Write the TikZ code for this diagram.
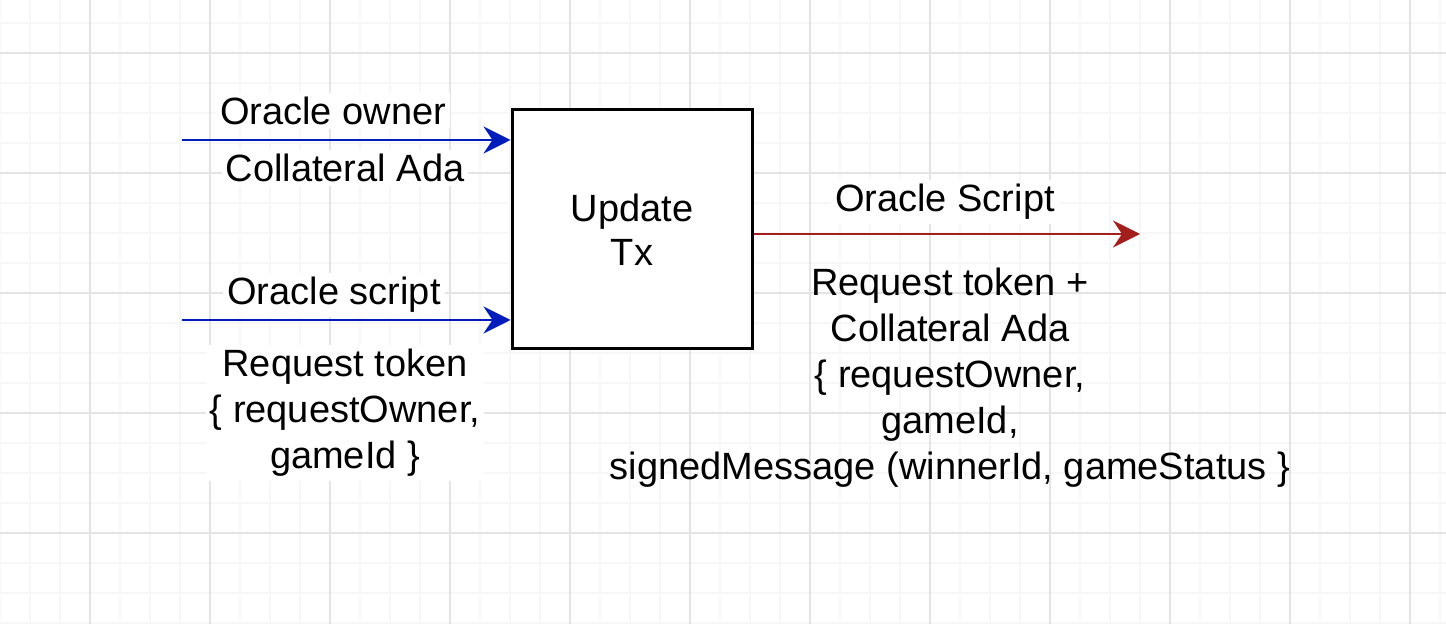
\documentclass[tikz,border=0pt]{standalone}
\usepackage{fontspec}
\setmainfont{Liberation Sans}
\usetikzlibrary{arrows.meta}
\begin{document}
\begin{tikzpicture}[x=0.5pt,y=0.5pt,yscale=-1,
  minorline/.style={color={rgb, 255:red, 247; green, 247; blue, 247 }, line width=1pt},
  majorline/.style={color={rgb, 255:red, 228; green, 228; blue, 228 }, line width=1pt},
  flowtext/.style={fill=white, inner sep=2pt, align=center, font=\fontsize{19}{23}\selectfont},
  bodytext/.style={flowtext, fill=none},
  txbox/.style={draw, line width=1.5pt, fill=white, minimum width=120pt, minimum height=119.5pt, align=center, font=\fontsize{19}{22}\selectfont},
  inarrow/.style={color={rgb, 255:red, 0; green, 29; blue, 188 }, line width=1pt, -{Stealth[length=13.5pt,width=13.5pt,inset=4.5pt]}},
  outarrow/.style={color={rgb, 255:red, 163; green, 31; blue, 27 }, line width=1pt, -{Stealth[length=13.5pt,width=13.5pt,inset=4.5pt]}}
]
\useasboundingbox (0,0) rectangle (1446,624);
\fill[white] (0,0) rectangle (1446,624);

%Grid
\foreach \gx in {0,30,...,1440} \draw[minorline] (\gx,0) -- (\gx,624);
\foreach \gy in {23,53,...,623} \draw[minorline] (0,\gy) -- (1446,\gy);
\foreach \gx in {90,210,...,1410} \draw[majorline] (\gx,0) -- (\gx,624);
\foreach \gy in {53,173,...,533} \draw[majorline] (0,\gy) -- (1446,\gy);

%Shape: Rectangle
\node[txbox] (tx) at (632,229.5) {Update\\Tx};

%Straight Lines
\coordinate (ownerin) at (182,140);
\coordinate (scriptin) at (182,320);
\coordinate (scriptout) at (1140,234);
\draw[inarrow] (ownerin) -- (ownerin -| tx.west);
\draw[inarrow] (scriptin) -- (scriptin -| tx.west);
\draw[outarrow] (tx.east |- scriptout) -- (scriptout);

% Text Node
\node[flowtext, anchor=base] (ownerlbl) at (333,125) {Oracle owner};
% Text Node
\node[flowtext, anchor=base] (adalbl) at (345,182) {Collateral Ada};
% Text Node
\node[flowtext, anchor=base] (scriptlbl) at (334,305) {Oracle script};
% Text Node
\node[flowtext] (tokenlbl) at (345,413) {Request token\\{\char`\{} requestOwner,\\gameId {\char`\}}};
% Text Node
\node[flowtext, anchor=base] (outlbl) at (945,212) {Oracle Script};
% Text Node
\node[bodytext] (datumlbl) at (950,378) {Request token +\\Collateral Ada\\{\char`\{} requestOwner,\\gameId,\\signedMessage (winnerId, gameStatus {\char`\}}};

\end{tikzpicture}
\end{document}
